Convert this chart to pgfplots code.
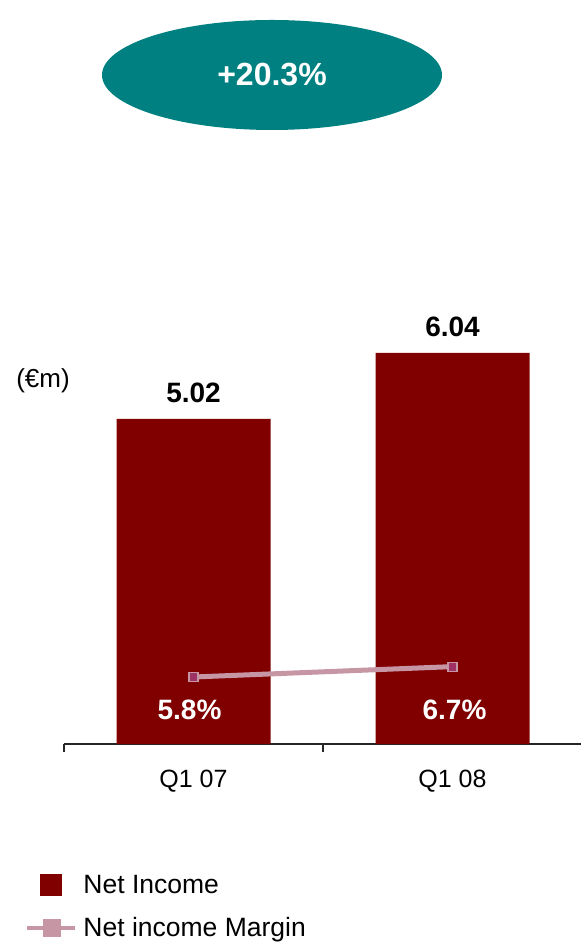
\documentclass[border=0pt]{standalone}
\usepackage{pgfplots}
\pgfplotsset{compat=1.18}
\usepackage{fontspec}
\setmainfont{Liberation Sans}
\definecolor{barred}{RGB}{128,0,0}
\definecolor{tealc}{RGB}{0,128,128}
\definecolor{linepink}{RGB}{198,150,165}
\definecolor{markpurple}{RGB}{158,50,100}
\begin{document}
\begin{tikzpicture}
\useasboundingbox (0,0) rectangle (581bp,943bp);
\fill[tealc] (272bp,868bp) ellipse [x radius=170bp, y radius=55bp];
\node[text=white, font=\fontsize{32bp}{38bp}\selectfont\bfseries] at (272bp,868bp) {+20.3\%};
\node[font=\fontsize{26bp}{31bp}\selectfont] at (43bp,562bp) {(€m)};
\begin{axis}[
  at={(64bp,199bp)}, anchor=south west,
  scale only axis,
  width=518bp, height=453.2bp,
  xmin=-0.5, xmax=1.5, ymin=0, ymax=7,
  axis x line=bottom, axis y line=none,
  axis line style={-, line width=1.2bp, color=black!85},
  xtick={0,1}, xticklabels={Q1 07, Q1 08},
  major tick length=0pt,
  extra x ticks={-0.5,0.5,1.5}, extra x tick labels={},
  extra x tick style={major tick length=8bp, tick align=outside, tick style={line width=1.2bp, black!85}},
  xticklabel style={font=\fontsize{25bp}{30bp}\selectfont, anchor=base, yshift=-43bp},
  ybar, bar width=154bp,
  clip=false,
  /pgf/number format/assume math mode=true,
  /pgf/number format/.cd, fixed, precision=2, fixed zerofill, /pgfplots/.cd,
  nodes near coords,
  every node near coord/.append style={font=\fontsize{28bp}{33bp}\selectfont\bfseries, yshift=13bp},
  legend style={at={(-0.0753,-0.284)}, anchor=north west, draw=none, fill=none,
    font=\fontsize{26.5bp}{31bp}\selectfont, row sep=19bp, inner sep=0pt},
  legend cell align=left,
]
\addplot[fill=barred, draw=none,
  legend image code/.code={\path[draw=none, fill=none] (0bp,0bp) rectangle (54bp,0.1bp); \fill[barred] (13bp,-11bp) rectangle (35bp,11bp);}]
  coordinates {(0,5.02) (1,6.04)};
\addlegendentry{Net Income}
\addlegendimage{legend image code/.code={\path[draw=none, fill=none] (0bp,0bp) rectangle (54bp,0.1bp); \draw[linepink, line width=4.5bp] (0bp,0bp)--(48bp,0bp); \fill[linepink] (16bp,-8.5bp) rectangle (33bp,8.5bp);}}
\addlegendentry{Net income Margin}
\node[text=white, anchor=base, font=\fontsize{28bp}{33bp}\selectfont\bfseries] at (axis cs:0,0.371) [xshift=-4bp] {5.8\%};
\node[text=white, anchor=base, font=\fontsize{28bp}{33bp}\selectfont\bfseries] at (axis cs:1,0.371) [xshift=2bp] {6.7\%};
\end{axis}
\begin{axis}[
  at={(64bp,199bp)}, anchor=south west,
  scale only axis,
  width=518bp, height=453.2bp,
  xmin=-0.5, xmax=1.5, ymin=0, ymax=39.24,
  hide axis, clip=false,
]
\addplot[linepink, line width=5bp, mark=square*, mark size=4.5bp,
  mark options={fill=markpurple, draw=linepink, line width=1.2bp}]
  coordinates {(0,5.8) (1,6.7)};
\end{axis}
\end{tikzpicture}
\end{document}
